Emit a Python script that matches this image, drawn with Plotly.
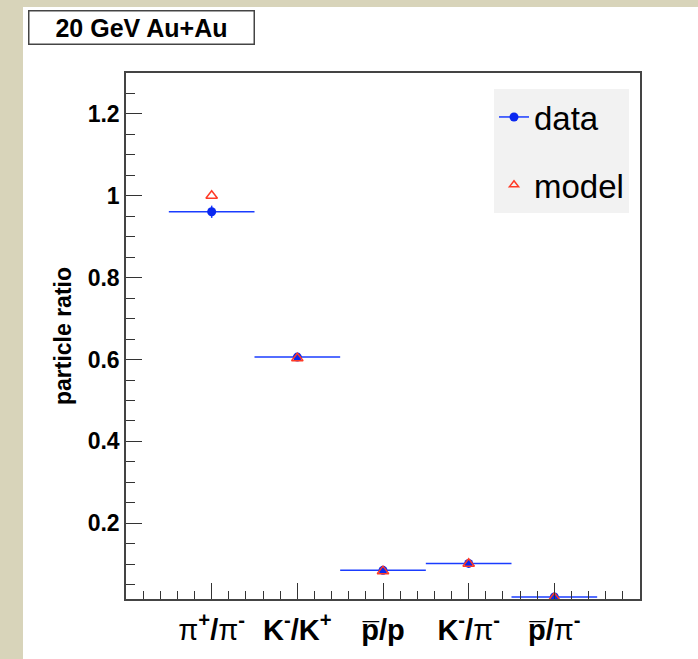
import plotly.graph_objects as go

# ---- data ----
categories = ["pi+/pi-", "K-/K+", "pbar/p", "K-/pi-", "pbar/pi-"]
cat_pos = [1, 2, 3, 4, 5]
tick_labels = [
    "π<sup><b>+</b></sup><b>/</b>π<sup><b>-</b></sup>",
    "<b>K<sup>-</sup>/K<sup>+</sup></b>",
    "<b>p\u0305/p</b>",
    "<b>K<sup>-</sup>/</b>π<sup><b>-</b></sup>",
    "<b>p\u0305/</b>π<sup><b>-</b></sup>",
]
data_values = [0.961, 0.606, 0.085, 0.102, 0.020]
data_err_y = [0.015, 0.006, 0.004, 0.004, 0.002]
data_err_x = [0.5, 0.5, 0.5, 0.5, 0.5]
model_values = [1.000, 0.603, 0.083, 0.101, 0.018]
y_tick_vals = [0.2, 0.4, 0.6, 0.8, 1.0, 1.2]
y_tick_text = ["0.2", "0.4", "0.6", "0.8", "1", "1.2"]

FONT = "Liberation Sans, Arial, Helvetica, sans-serif"
BLUE = "#1a3cff"
RED = "#ff3a26"
BEIGE = "#d8d4ba"

fig = go.Figure()

fig.add_trace(go.Scatter(
    x=cat_pos, y=data_values, mode="markers", showlegend=False,
    marker=dict(symbol="circle", size=9, color="#0a28f0"),
    error_x=dict(type="data", array=data_err_x, color=BLUE, thickness=1.5, width=0),
    error_y=dict(type="data", array=data_err_y, color=BLUE, thickness=1.5, width=0),
))
fig.add_trace(go.Scatter(
    x=cat_pos, y=model_values, mode="markers", showlegend=False,
    marker=dict(symbol="triangle-up-open", size=10, color=RED, line=dict(width=1.5, color=RED)),
))
# legend proxies
fig.add_trace(go.Scatter(
    x=[None], y=[None], mode="lines+markers", name="data", legendgroup="a",
    line=dict(color=BLUE, width=1.5),
    marker=dict(symbol="circle", size=9, color="#0a28f0"),
))
fig.add_trace(go.Scatter(
    x=[None], y=[None], mode="markers", name="model", legendgroup="b",
    marker=dict(symbol="triangle-up-open", size=8, color=RED, line=dict(width=1.5, color=RED)),
))

L, R, T, B = 126, 58, 73, 60
W, H = 698, 659
pw, ph = W - L - R, H - T - B

def px(xpix):
    return (xpix - L) / pw

def py(ypix):
    return (H - B - ypix) / ph

fig.update_layout(
    width=W, height=H,
    margin=dict(l=L, r=R, t=T, b=B, pad=0),
    paper_bgcolor=BEIGE,
    plot_bgcolor="white",
    font=dict(family=FONT, color="black"),
    showlegend=True,
    legend=dict(
        x=px(494), y=py(89), xanchor="left", yanchor="top",
        bgcolor="#f2f2f2", borderwidth=0,
        font=dict(family=FONT, size=33, color="black"),
        tracegroupgap=22, traceorder="grouped",
        itemwidth=30,
    ),
    shapes=[
        dict(type="rect", xref="paper", yref="paper",
             x0=px(23), x1=px(W + 5), y0=py(H + 5), y1=py(7),
             fillcolor="white", line=dict(width=0), layer="below"),
    ],
    annotations=[
        dict(text="<b>20 GeV Au+Au</b>", xref="paper", yref="paper",
             x=px(141.5), y=py(27), xanchor="center", yanchor="middle",
             showarrow=False, font=dict(family=FONT, size=25, color="black"),
             bgcolor="white", bordercolor="#444444", borderwidth=1.5,
             width=222, height=30, borderpad=1),
    ],
)

fig.update_xaxes(
    range=[0, 6],
    tickmode="array", tickvals=cat_pos, ticktext=tick_labels,
    ticks="inside", ticklen=16, tickwidth=1.2, tickcolor="#333333",
    tickfont=dict(family=FONT, size=29, color="black"),
    ticklabelstandoff=4,
    minor=dict(dtick=0.2, tick0=0, ticks="inside", ticklen=8, tickwidth=1.2, tickcolor="#333333"),
    showline=True, linecolor="#444444", linewidth=1.5, mirror=True,
    showgrid=False, zeroline=False,
)
fig.update_yaxes(
    range=[0.015, 1.3],
    tickmode="array", tickvals=y_tick_vals, ticktext=y_tick_text,
    ticks="inside", ticklen=16, tickwidth=1.2, tickcolor="#333333",
    tickfont=dict(family=FONT, size=23, color="black", weight="bold"),
    minor=dict(dtick=0.05, tick0=0, ticks="inside", ticklen=9, tickwidth=1.2, tickcolor="#333333"),
    showline=True, linecolor="#444444", linewidth=1.5, mirror=True,
    showgrid=False, zeroline=False,
    title=dict(text="<b>particle ratio</b>", font=dict(family=FONT, size=23, color="black"), standoff=10),
)

fig.write_html(
    "out.html",
    config={"displayModeBar": False},
    post_script="document.body.style.margin='0';document.body.style.background='" + BEIGE + "';",
)
